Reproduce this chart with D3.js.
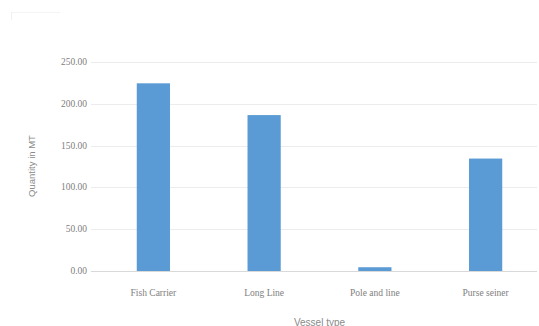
<!DOCTYPE html>
<html>
<head>
<meta charset="utf-8">
<script src="https://cdn.jsdelivr.net/npm/d3@7"></script>
<style>
html,body{margin:0;padding:0;background:#fff;}
svg{display:block;}
</style>
</head>
<body>
<svg id="chart" width="539" height="326"></svg>
<script>
const categories = ["Fish Carrier", "Long Line", "Pole and line", "Purse seiner"];
const values = [224.5, 186.5, 4.5, 134.5];
const yTicks = [0, 50, 100, 150, 200, 250];
const yTickLabels = ["0.00", "50.00", "100.00", "150.00", "200.00", "250.00"];

const svg = d3.select("#chart");
const W = 539, H = 326;
svg.append("rect").attr("width", W).attr("height", H).attr("fill", "#fff");

const x = d3.scaleBand().domain(categories).range([98, 541]).paddingInner(0.7).paddingOuter(0.35);
const y = d3.scaleLinear().domain([0, 250]).range([271, 62]);

// gridlines
svg.append("g").selectAll("line").data(yTicks).join("line")
  .attr("x1", 91).attr("x2", 537)
  .attr("y1", d => Math.round(y(d)) + 0.5).attr("y2", d => Math.round(y(d)) + 0.5)
  .attr("stroke", d => d === 0 ? "#d9d9d9" : "#ececec").attr("stroke-width", 1);

// y tick labels
svg.append("g").selectAll("text").data(yTicks).join("text")
  .attr("x", 87).attr("y", d => y(d) + 3)
  .attr("text-anchor", "end")
  .attr("font-family", "Liberation Serif, serif").attr("font-size", 9.5)
  .attr("fill", "#808080")
  .text((d, i) => yTickLabels[i]);

// bars
svg.append("g").selectAll("rect").data(values).join("rect")
  .attr("x", (d, i) => x(categories[i]))
  .attr("width", x.bandwidth())
  .attr("y", d => y(d))
  .attr("height", d => y(0) - y(d))
  .attr("fill", "#5b9bd5");

// x axis labels
const xAxis = d3.axisBottom(x).tickSize(0).tickPadding(0);
const gx = svg.append("g").attr("transform", `translate(0,${y(0)})`).call(xAxis);
gx.select(".domain").remove();
gx.selectAll("text")
  .attr("y", 25).attr("dy", 0)
  .attr("font-family", "Liberation Serif, serif").attr("font-size", 9.5)
  .attr("fill", "#808080");

// axis titles
svg.append("text")
  .attr("x", (98 + 541) / 2).attr("y", 325.5)
  .attr("text-anchor", "middle")
  .attr("font-family", "Liberation Sans, sans-serif").attr("font-size", 10)
  .attr("fill", "#8a8a8a")
  .text("Vessel type");

svg.append("text")
  .attr("transform", "translate(35,166) rotate(-90)")
  .attr("text-anchor", "middle")
  .attr("font-family", "Liberation Sans, sans-serif").attr("font-size", 9.5)
  .attr("fill", "#8a8a8a")
  .text("Quantity in MT");

// faint chart border remnant (top-left)
svg.append("line").attr("x1", 11).attr("x2", 60).attr("y1", 12.5).attr("y2", 12.5).attr("stroke", "#f4f4f4");
svg.append("line").attr("x1", 11.5).attr("x2", 11.5).attr("y1", 12).attr("y2", 20).attr("stroke", "#f0f0f0");
</script>
</body>
</html>
